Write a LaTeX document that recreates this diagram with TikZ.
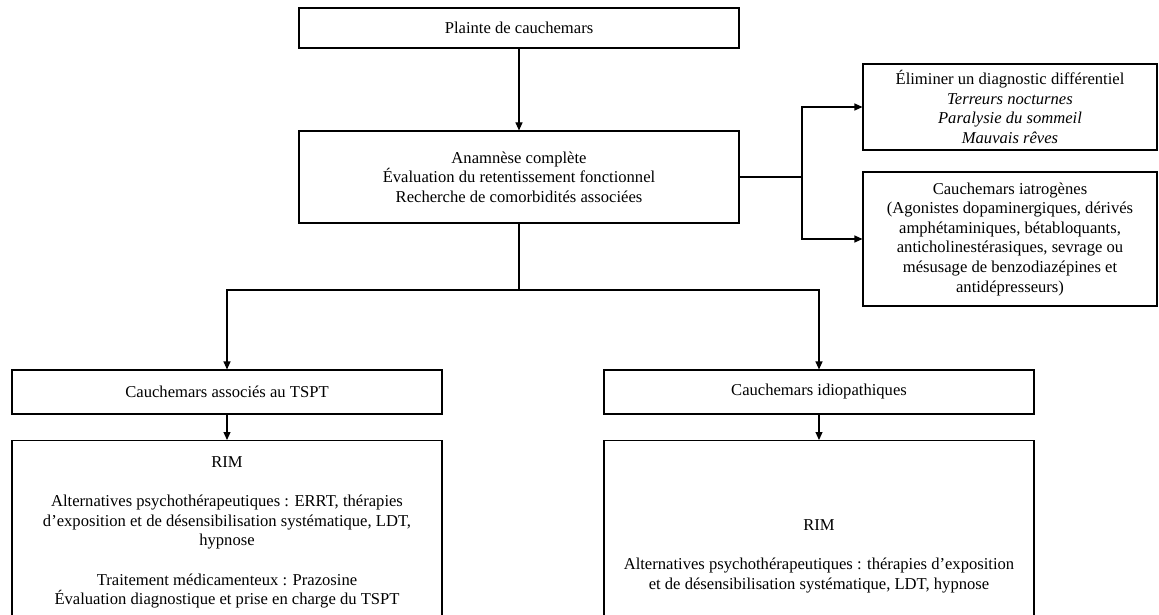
\documentclass[tikz,border=0pt]{standalone}
\usepackage{fontspec}
\setmainfont{Liberation Serif}
\usetikzlibrary{arrows.meta}
\tikzset{
  box/.style={draw=black, line width=1.1pt, fill=white, align=center, inner sep=0pt, font=\fontsize{16.6}{19.6}\selectfont},
  conn/.style={line width=1.1pt, draw=black},
  arr/.style={conn, -{Triangle[length=8pt,width=7pt]}}
}
\begin{document}
\begin{tikzpicture}[x=1pt,y=-1pt]
\useasboundingbox (0,0) rectangle (1159,615);
\clip (0,0) rectangle (1159,615);
\fill[white] (0,0) rectangle (1159,615);
% boxes
\node[box, minimum width=440pt, minimum height=40pt] (top) at (519,28) {Plainte de cauchemars};
\node[box, minimum width=440pt, minimum height=92pt] (mid) at (519,177) {Anamnèse complète\\Évaluation du retentissement fonctionnel\\Recherche de comorbidités associées};
\node[box, minimum width=294pt, minimum height=86pt] (r1) at (1010,107) {Éliminer un diagnostic différentiel\\\textit{Terreurs nocturnes}\\\textit{Paralysie du sommeil}\\\textit{Mauvais rêves}};
\node[box, minimum width=294pt, minimum height=134pt] (r2) at (1010,239) {Cauchemars iatrogènes\\(Agonistes dopaminergiques, dérivés\\amphétaminiques, bétabloquants,\\anticholinestérasiques, sevrage ou\\mésusage de benzodiazépines et\\antidépresseurs)};
\node[box, minimum width=430pt, minimum height=44pt] (l3) at (227,392) {Cauchemars associés au TSPT};
\node[box, minimum width=430pt, minimum height=44pt] (r3) at (819,392) {Cauchemars idiopathiques};
\node[box, minimum width=430pt, minimum height=184pt, anchor=north] (l4) at (227,440) {RIM\\[19.6pt]Alternatives psychothérapeutiques : ERRT, thérapies\\d’exposition et de désensibilisation systématique, LDT,\\hypnose\\[19.6pt]Traitement médicamenteux : Prazosine\\Évaluation diagnostique et prise en charge du TSPT};
\node[box, minimum width=430pt, minimum height=232pt, anchor=north] (r4) at (819,440) {RIM\\[19.6pt]Alternatives psychothérapeutiques : thérapies d’exposition\\et de désensibilisation systématique, LDT, hypnose};
% connectors
\coordinate (bR) at (802,177);
\coordinate (bD) at (519,290);
\draw[arr] (top.south) -- (mid.north);
\draw[conn] (mid.east) -- (bR);
\draw[arr] (bR) |- (r1.west);
\draw[arr] (bR) |- (r2.west);
\draw[conn] (mid.south) -- (bD);
\draw[arr] (bD) -| (l3.north);
\draw[arr] (bD) -| (r3.north);
\draw[arr] (l3.south) -- (l4.north);
\draw[arr] (r3.south) -- (r4.north);
\end{tikzpicture}
\end{document}
